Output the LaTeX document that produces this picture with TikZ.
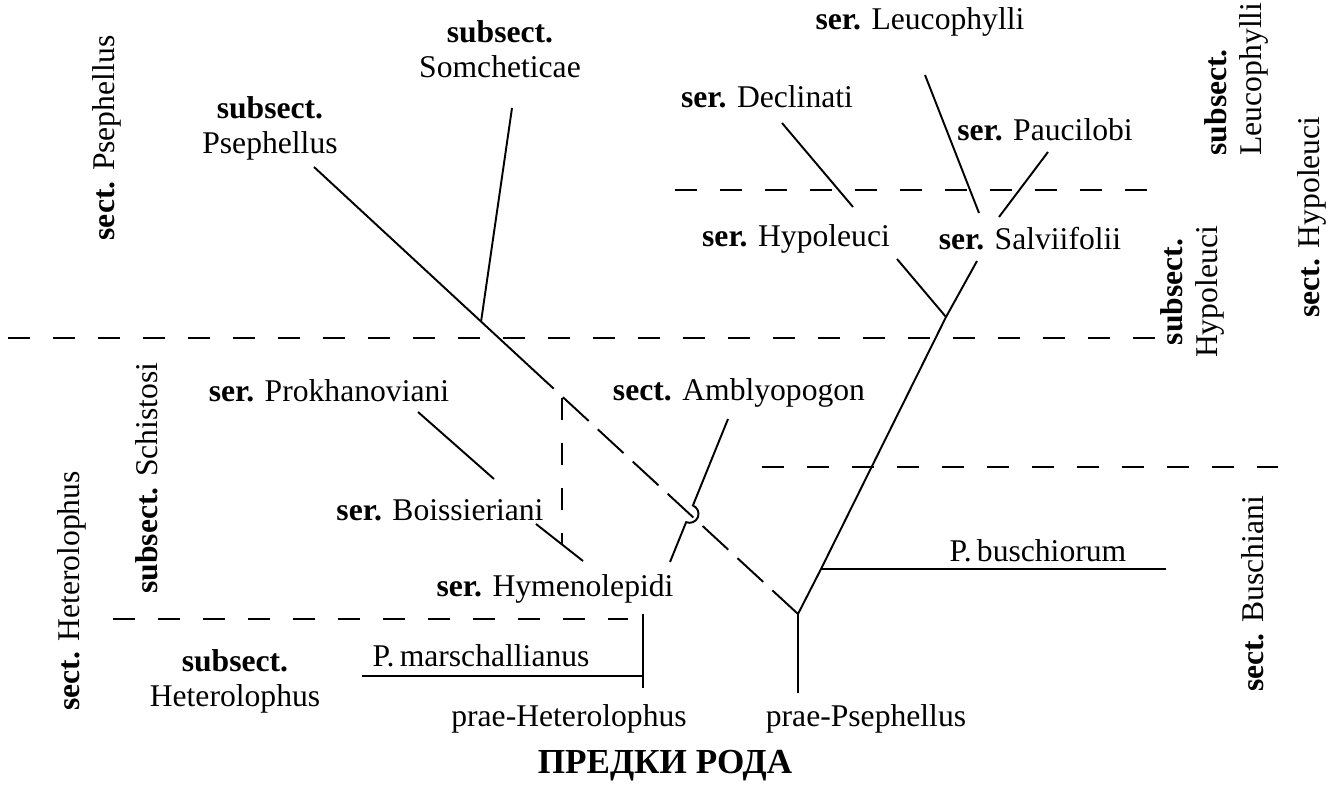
\documentclass[tikz,border=0pt]{standalone}
\usepackage{fontspec}
\setmainfont{Liberation Serif}
\begin{document}
\begin{tikzpicture}[x=0.02cm, y=-0.02cm,
    lbl/.style={font=\fontsize{18}{20}\selectfont, inner sep=0pt, align=center},
    vlbl/.style={lbl, rotate=90},
    branch/.style={line width=1.1pt},
    border/.style={line width=1.1pt, dash pattern=on 0.44cm off 0.46cm},
    gap/.style={line width=1.1pt, dash pattern=on 0.7cm off 0.25cm}]
    \useasboundingbox (0,0) rectangle (1328,786);

    % labels
    \node[lbl] (subPseph) at (270,128) {\textbf{subsect.}\\Psephellus};
    \node[lbl] (subSomch) at (500,49) {\textbf{subsect.}\\Somcheticae};
    \node[lbl] (serDecl) at (767,97) {\textbf{ser.} Declinati};
    \node[lbl] (serLeuc) at (920,22) {\textbf{ser.} Leucophylli};
    \node[lbl] (serPauc) at (1045,130) {\textbf{ser.} Paucilobi};
    \node[lbl] (serHypo) at (796,239) {\textbf{ser.} Hypoleuci};
    \node[lbl] (serSalv) at (1030,239) {\textbf{ser.} Salviifolii};
    \node[lbl] (sectAmbl) at (739,393) {\textbf{sect.} Amblyopogon};
    \node[lbl] (serProkh) at (329,391) {\textbf{ser.} Prokhanoviani};
    \node[lbl] (serBoiss) at (440,510) {\textbf{ser.} Boissieriani};
    \node[lbl] (serHymen) at (555,589) {\textbf{ser.} Hymenolepidi};
    \node[lbl] (Pbusch) at (1038,551) {P.\,buschiorum};
    \node[lbl] (Pmarsch) at (481,656) {P.\,marschallianus};
    \node[lbl] (subHeter) at (235,681) {\textbf{subsect.}\\Heterolophus};
    \node[lbl] (praeH) at (569,719) {prae-Heterolophus};
    \node[lbl] (praeP) at (866,719) {prae-Psephellus};
    \node[font=\fontsize{20}{24}\selectfont\bfseries, inner sep=0pt] (ancestors) at (665,766) {ПРЕДКИ РОДА};

    % rotated labels
    \node[vlbl] (sectPseph) at (107,138) {\textbf{sect.} Psephellus};
    \node[vlbl, align=left] (subLeuc) at (1236,79) {\textbf{subsect.}\\Leucophylli};
    \node[vlbl] (sectHypo) at (1312,217) {\textbf{sect.} Hypoleuci};
    \node[vlbl] (subHypo) at (1192,292) {\textbf{subsect.}\\Hypoleuci};
    \node[vlbl] (sectBusch) at (1253,594) {\textbf{sect.} Buschiani};
    \node[vlbl] (subSchist) at (147,478) {\textbf{subsect.} Schistosi};
    \node[vlbl] (sectHeter) at (72,591) {\textbf{sect.} Heterolophus};

    % branch points
    \coordinate (psTop) at (314,167);
    \coordinate (smJoin) at (481,322);
    \coordinate (smTop) at (512,108);
    \coordinate (psBreak) at (528,365);
    \coordinate (root) at (798,614);
    \coordinate (rootEnd) at (798,693);
    \coordinate (busJoin) at (821,569);
    \coordinate (busEnd) at (1166,569);
    \coordinate (hyJoin) at (946,317);
    \coordinate (hyTop) at (897,259);
    \coordinate (saTop) at (977,261);
    \coordinate (deTop) at (782,123);
    \coordinate (deEnd) at (853,207);
    \coordinate (leTop) at (925,75);
    \coordinate (leEnd) at (979,213);
    \coordinate (paTop) at (1048,152);
    \coordinate (paEnd) at (999,217);
    \coordinate (amTop) at (728,419);
    \coordinate (amHop) at (692.9,505.5);
    \coordinate (amEnd) at (670,562);
    \coordinate (prTop) at (418,412);
    \coordinate (prEnd) at (494,479);
    \coordinate (boTop) at (536,524);
    \coordinate (boEnd) at (583,561);
    \coordinate (boDashTop) at (562,398);
    \coordinate (boDashEnd) at (562,544);
    \coordinate (htTop) at (643,614);
    \coordinate (htEnd) at (643,688);
    \coordinate (maJoin) at (643,676);
    \coordinate (maEnd) at (362,676);

    % tree
    \draw[branch] (psTop) -- (psBreak);
    \draw[gap] (psBreak) -- (root);
    \draw[branch] (smTop) -- (smJoin);
    \draw[branch] (root) -- (rootEnd);
    \draw[branch] (saTop) -- (hyJoin) -- (busJoin) -- (root);
    \draw[branch] (hyTop) -- (hyJoin);
    \draw[branch] (busJoin) -- (busEnd);
    \draw[branch] (deTop) -- (deEnd);
    \draw[branch] (leTop) -- (leEnd);
    \draw[branch] (paTop) -- (paEnd);
    \draw[branch] (amTop) -- (amHop) arc[start angle=67.9, end angle=-112.1, radius=0.18cm] -- (amEnd);
    \draw[branch] (prTop) -- (prEnd);
    \draw[branch] (boTop) -- (boEnd);
    \draw[border] (boDashTop) -- (boDashEnd);
    \draw[branch] (htTop) -- (htEnd);
    \draw[branch] (maEnd) -- (maJoin);

    % borders
    \draw[border] (8,338) -- (1155,338);
    \draw[border] (675,190) -- (1163,190);
    \draw[border] (762,467) -- (1278,467);
    \draw[border] (113,619) -- (628,619);
\end{tikzpicture}
\end{document}
